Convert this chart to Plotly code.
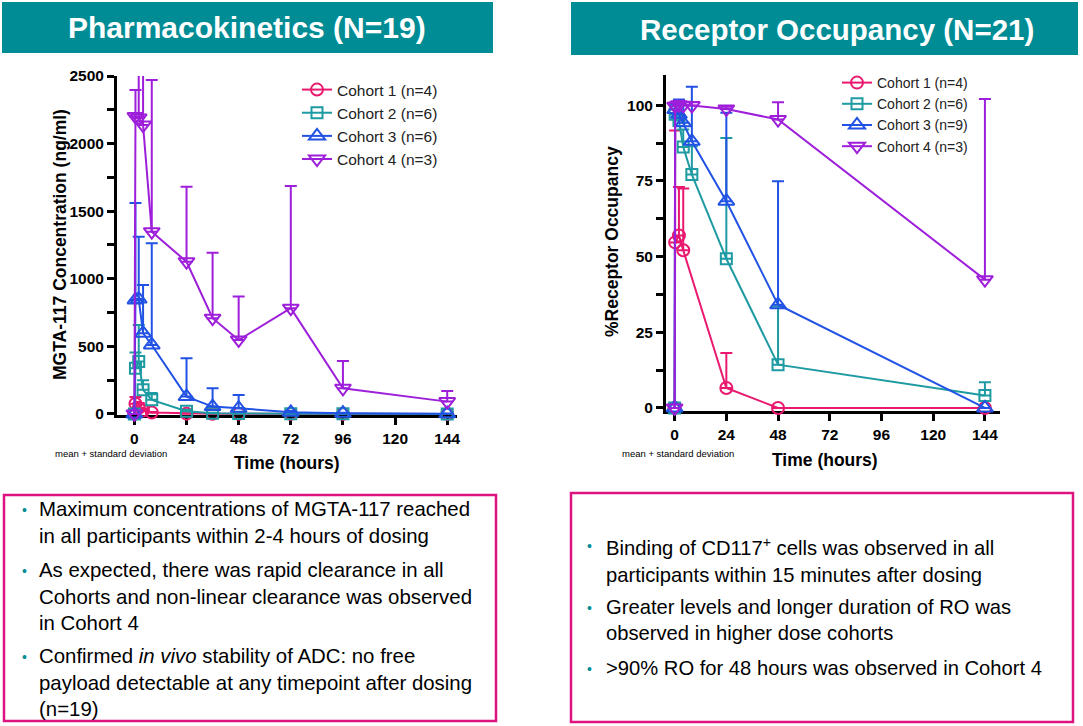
import plotly.graph_objects as go

W, H = 1083, 726
FONT = "Liberation Sans, Arial, sans-serif"

# ---------------- data ----------------
cohort_names_pk = ["Cohort 1 (n=4)", "Cohort 2 (n=6)", "Cohort 3 (n=6)", "Cohort 4 (n=3)"]
cohort_names_ro = ["Cohort 1 (n=4)", "Cohort 2 (n=6)", "Cohort 3 (n=9)", "Cohort 4 (n=3)"]
colors = ["#E8196E", "#1E9BA2", "#2152E4", "#9E1FDA"]
symbols = ["circle-open", "square-open", "triangle-up-open", "triangle-down-open"]

# Pharmacokinetics (ng/ml), mean and mean+SD
pk_time = [0, 0.5, 2, 4, 8, 24, 36, 48, 72, 96, 144]
pk_c1_mean = [0, 75, 45, 25, 10, 2, 1, 1, 0, 0, 0]
pk_c1_top = [0, 125, 80, 40, 15, 4, 2, 2, 1, 0, 0]
pk_c2_mean = [0, 338, 387, 178, 104, 20, 5, 3, 2, 1, 0]
pk_c2_top = [0, 455, 658, 250, 155, 30, 8, 5, 3, 2, 0]
pk_c3_mean = [0, 843, 850, 597, 510, 128, 54, 42, 12, 5, 2]
pk_c3_top = [0, 1560, 1311, 954, 1262, 412, 190, 140, 22, 8, 3]
pk_c4_mean = [0, 2200, 2190, 2137, 1348, 1126, 708, 547, 782, 190, 91]
pk_c4_top = [0, 2396, 3000, 2950, 2470, 1681, 1193, 868, 1686, 392, 170]

# Receptor occupancy (%), mean and mean+SD
ro_time_c1 = [0, 0.25, 2, 4, 24, 48, 144]
ro_c1_mean = [0, 54.7, 57.0, 52.1, 6.6, 0, 0]
ro_c1_top = [0, 91.7, 73.0, 72.5, 18.2, 0, 0]
ro_time = [0, 0.25, 2, 4, 8, 24, 48, 144]
ro_c2_mean = [0, 97.0, 95.0, 86.2, 77.1, 49.3, 14.3, 4.1]
ro_c2_top = [0, 100.0, 100.5, 92.0, 86.5, 89.2, 33.5, 8.5]
ro_c3_mean = [0, 98.6, 97.0, 94.2, 88.1, 68.3, 34.1, 0]
ro_c3_top = [0, 100.5, 101.9, 100.0, 106.1, 97.5, 74.9, 0]
ro_c4_mean = [0, 99.7, 100.2, 100.0, 99.9, 98.8, 95.3, 42.4]
ro_c4_top = [0, 101.0, 101.5, 101.0, 101.0, 99.5, 101.0, 102.1]

pk_series = [(pk_time, pk_c1_mean, pk_c1_top), (pk_time, pk_c2_mean, pk_c2_top),
             (pk_time, pk_c3_mean, pk_c3_top), (pk_time, pk_c4_mean, pk_c4_top)]
ro_series = [(ro_time_c1, ro_c1_mean, ro_c1_top), (ro_time, ro_c2_mean, ro_c2_top),
             (ro_time, ro_c3_mean, ro_c3_top), (ro_time, ro_c4_mean, ro_c4_top)]

x_ticks = [0, 24, 48, 72, 96, 120, 144]
pk_y_ticks = [0, 500, 1000, 1500, 2000, 2500]
ro_y_ticks = [0, 25, 50, 75, 100]

header_left = "Pharmacokinetics (N=19)"
header_right = "Receptor Occupancy (N=21)"
left_bullets = [
    "Maximum concentrations of MGTA-117 reached<br>in all participants within 2-4 hours of dosing",
    "As expected, there was rapid clearance in all<br>Cohorts and non-linear clearance was observed<br>in Cohort 4",
    "Confirmed <i>in vivo</i> stability of ADC: no free<br>payload detectable at any timepoint after dosing<br>(n=19)",
]
right_bullets = [
    "Binding of CD117<sup>+</sup> cells was observed in all<br>participants within 15 minutes after dosing",
    "Greater levels and longer duration of RO was<br>observed in higher dose cohorts",
    "&gt;90% RO for 48 hours was observed in Cohort 4",
]

# ---------------- figure ----------------
def px(x):
    return x / W

def py(y):
    return 1 - y / H

fig = go.Figure()

marker_sizes = [12, 11, 14, 14]

for i, (t, m, top) in enumerate(pk_series):
    fig.add_trace(go.Scatter(
        x=t, y=m, mode="lines+markers", name=cohort_names_pk[i],
        line=dict(color=colors[i], width=2),
        marker=dict(symbol=symbols[i], size=marker_sizes[i], color=colors[i], line=dict(width=2, color=colors[i])),
        error_y=dict(type="data", symmetric=False, array=[a - b for a, b in zip(top, m)],
                     arrayminus=[0] * len(m), color=colors[i], thickness=2, width=6),
        cliponaxis=False, xaxis="x", yaxis="y", legend="legend",
    ))

for i, (t, m, top) in enumerate(ro_series):
    fig.add_trace(go.Scatter(
        x=t, y=m, mode="lines+markers", name=cohort_names_ro[i],
        line=dict(color=colors[i], width=2),
        marker=dict(symbol=symbols[i], size=marker_sizes[i], color=colors[i], line=dict(width=2, color=colors[i])),
        error_y=dict(type="data", symmetric=False, array=[a - b for a, b in zip(top, m)],
                     arrayminus=[0] * len(m), color=colors[i], thickness=2, width=6),
        cliponaxis=False, xaxis="x2", yaxis="y2", legend="legend2",
    ))

axis_common = dict(
    showline=True, linewidth=3, linecolor="black", showgrid=False, zeroline=False,
    ticks="outside", ticklen=7, tickwidth=3, tickcolor="black", layer="below traces",
    automargin=False,
    tickfont=dict(family=FONT, size=15.5, color="black", weight="bold"),
)

fig.update_layout(
    width=W, height=H, autosize=False, margin=dict(l=0, r=0, t=0, b=0, pad=0, autoexpand=False),
    paper_bgcolor="white", plot_bgcolor="white",
    xaxis=dict(domain=[px(117), px(457)], range=[-8, 148.5], tickvals=x_ticks, anchor="y", **axis_common),
    yaxis=dict(domain=[py(415), py(76)], range=[-8, 2500], tickvals=pk_y_ticks, anchor="x",
               minor=dict(dtick=250, ticks="outside", ticklen=7, tickwidth=3, tickcolor="black", showgrid=False),
               **axis_common),
    xaxis2=dict(domain=[px(666), px(1000)], range=[-4, 151], tickvals=x_ticks, anchor="y2", **axis_common),
    yaxis2=dict(domain=[py(411), py(75)], range=[-1, 110], tickvals=ro_y_ticks, anchor="x2",
                minor=dict(dtick=12.5, ticks="outside", ticklen=7, tickwidth=3, tickcolor="black", showgrid=False),
                **axis_common),
    legend=dict(x=px(297), y=py(73), xanchor="left", yanchor="top", bgcolor="rgba(0,0,0,0)",
                font=dict(family=FONT, size=15.5, color="#222"), tracegroupgap=0),
    legend2=dict(x=px(837), y=py(67), xanchor="left", yanchor="top", bgcolor="rgba(0,0,0,0)",
                 font=dict(family=FONT, size=14, color="#222"), tracegroupgap=0),
    showlegend=True,
)

shapes = []
ann = []
TEAL = "#008C95"
MAGENTA = "#DE1380"

# header bars
shapes.append(dict(type="rect", xref="paper", yref="paper", x0=px(2), x1=px(493), y0=py(53), y1=py(2),
                   fillcolor=TEAL, line=dict(width=0), layer="below"))
shapes.append(dict(type="rect", xref="paper", yref="paper", x0=px(571), x1=px(1078), y0=py(55), y1=py(2),
                   fillcolor=TEAL, line=dict(width=0), layer="below"))
ann.append(dict(text=header_left, x=px(247), y=py(28), xref="paper", yref="paper", showarrow=False,
                xanchor="center", yanchor="middle", font=dict(family=FONT, size=30, color="white", weight="bold")))
ann.append(dict(text=header_right, x=px(837), y=py(29), xref="paper", yref="paper", showarrow=False,
                xanchor="center", yanchor="middle", font=dict(family=FONT, size=29.5, color="white", weight="bold")))

# text boxes
shapes.append(dict(type="rect", xref="paper", yref="paper", x0=px(4), x1=px(496), y0=py(721), y1=py(495),
                   line=dict(color=MAGENTA, width=2.5), fillcolor="rgba(0,0,0,0)"))
shapes.append(dict(type="rect", xref="paper", yref="paper", x0=px(571), x1=px(1073), y0=py(722), y1=py(493),
                   line=dict(color=MAGENTA, width=2.5), fillcolor="rgba(0,0,0,0)"))

left_tops = [496, 557, 643]
right_tops = [532, 594, 655]
for txt, top in zip(left_bullets, left_tops):
    ann.append(dict(text=txt, x=px(37), y=py(top), xref="paper", yref="paper", showarrow=False,
                    xanchor="left", yanchor="top", align="left",
                    font=dict(family=FONT, size=20.4, color="black")))
    ann.append(dict(text="•", x=px(24), y=py(top + 14), xref="paper", yref="paper", showarrow=False,
                    xanchor="center", yanchor="middle", font=dict(family=FONT, size=14, color=TEAL)))
for txt, top in zip(right_bullets, right_tops):
    ann.append(dict(text=txt, x=px(604), y=py(top), xref="paper", yref="paper", showarrow=False,
                    xanchor="left", yanchor="top", align="left",
                    font=dict(family=FONT, size=20.2, color="black")))
    ann.append(dict(text="•", x=px(589), y=py(top + 14), xref="paper", yref="paper", showarrow=False,
                    xanchor="center", yanchor="middle", font=dict(family=FONT, size=14, color=TEAL)))

# axis titles and notes
bold_title = dict(family=FONT, size=17.5, color="black", weight="bold")
ann.append(dict(text="Time (hours)", x=px(287), y=py(463), xref="paper", yref="paper", showarrow=False,
                xanchor="center", yanchor="middle", font=bold_title))
ann.append(dict(text="MGTA-117 Concentration (ng/ml)", x=px(60), y=py(245), xref="paper", yref="paper",
                showarrow=False, textangle=-90, xanchor="center", yanchor="middle", font=bold_title))
ann.append(dict(text="Time (hours)", x=px(825), y=py(460), xref="paper", yref="paper", showarrow=False,
                xanchor="center", yanchor="middle", font=bold_title))
ann.append(dict(text="%Receptor Occupancy", x=px(612), y=py(242), xref="paper", yref="paper",
                showarrow=False, textangle=-90, xanchor="center", yanchor="middle", font=bold_title))
note = dict(family=FONT, size=9.5, color="black")
ann.append(dict(text="mean + standard deviation", x=px(111), y=py(453), xref="paper", yref="paper",
                showarrow=False, xanchor="center", yanchor="middle", font=note))
ann.append(dict(text="mean + standard deviation", x=px(678), y=py(453), xref="paper", yref="paper",
                showarrow=False, xanchor="center", yanchor="middle", font=note))

fig.update_layout(shapes=shapes, annotations=ann)
fig.write_html("out.html")
